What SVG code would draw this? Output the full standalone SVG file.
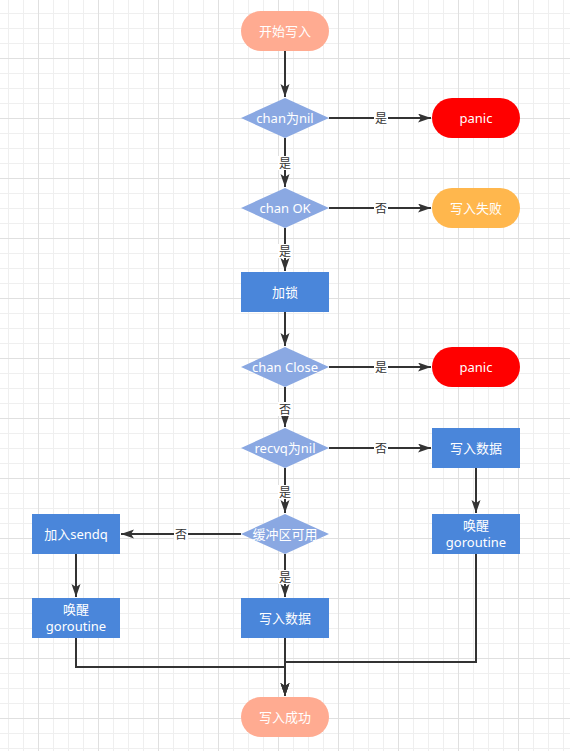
<svg xmlns="http://www.w3.org/2000/svg" width="570" height="751" viewBox="0 0 570 751">
<style>
.t{font-family:"Noto Sans","Noto Sans CJK SC",sans-serif;font-size:13px;fill:#fff;text-anchor:middle}
.l{font-family:"Noto Sans","Noto Sans CJK SC",sans-serif;font-size:12px;fill:#333;text-anchor:middle}
.e{fill:none;stroke:#333;stroke-width:2}
.term{fill:#FFAB91}
.dia{fill:#8AA8E2}
.box{fill:#4A86DA}
.red{fill:#FF0000}
.org{fill:#FFB74D}
.lb{fill:#fff}
</style>
<defs>
<pattern id="grid" patternUnits="userSpaceOnUse" x="38" y="58" width="60" height="60">
<path d="M15.5,0V60M30.5,0V60M45.5,0V60M0,15.5H60M0,30.5H60M0,45.5H60" stroke="#efefef" stroke-width="1" fill="none"/>
<path d="M0.5,0V60M0,0.5H60" stroke="#e0e0e0" stroke-width="1" fill="none"/>
</pattern>
<marker id="arr" markerUnits="userSpaceOnUse" markerWidth="14" markerHeight="10" refX="13" refY="4.5" orient="auto">
<path d="M0,0L13,4.5L0,9L3,4.5z" fill="#333"/>
</marker>
</defs>
<rect width="570" height="751" fill="#fff"/>
<rect width="570" height="751" fill="url(#grid)"/>

<g id="connectors">
<path class="e" d="M285,51V97" marker-end="url(#arr)"/>
<path class="e" d="M329,118H431" marker-end="url(#arr)"/>
<path class="e" d="M285,138V187" marker-end="url(#arr)"/>
<path class="e" d="M329,208H431" marker-end="url(#arr)"/>
<path class="e" d="M285,228V271" marker-end="url(#arr)"/>
<path class="e" d="M285,312V346" marker-end="url(#arr)"/>
<path class="e" d="M329,367H431" marker-end="url(#arr)"/>
<path class="e" d="M285,387V427" marker-end="url(#arr)"/>
<path class="e" d="M329,448H431" marker-end="url(#arr)"/>
<path class="e" d="M285,468V513" marker-end="url(#arr)"/>
<path class="e" d="M241,534H121" marker-end="url(#arr)"/>
<path class="e" d="M285,554V597" marker-end="url(#arr)"/>
<path class="e" d="M476,468V513" marker-end="url(#arr)"/>
<path class="e" d="M76,554V597" marker-end="url(#arr)"/>
<path class="e" d="M76,638V667H285V696" marker-end="url(#arr)"/>
<path class="e" d="M476,554V662H285V696" marker-end="url(#arr)"/>
<path class="e" d="M285,638V696" marker-end="url(#arr)"/>
<rect class="lb" x="374" y="111" width="14" height="14"/><text class="l" x="381" y="122.5">是</text>
<rect class="lb" x="278" y="156" width="14" height="14"/><text class="l" x="285" y="167.5">是</text>
<rect class="lb" x="374" y="201" width="14" height="14"/><text class="l" x="381" y="212.5">否</text>
<rect class="lb" x="278" y="244" width="14" height="14"/><text class="l" x="285" y="255.5">是</text>
<rect class="lb" x="374" y="360" width="14" height="14"/><text class="l" x="381" y="371.5">是</text>
<rect class="lb" x="278" y="402" width="14" height="14"/><text class="l" x="285" y="413.5">否</text>
<rect class="lb" x="374" y="441" width="14" height="14"/><text class="l" x="381" y="452.5">否</text>
<rect class="lb" x="278" y="485" width="14" height="14"/><text class="l" x="285" y="496.5">是</text>
<rect class="lb" x="174" y="527" width="14" height="14"/><text class="l" x="181" y="538.5">否</text>
<rect class="lb" x="278" y="570" width="14" height="14"/><text class="l" x="285" y="581.5">是</text>
</g>

<g id="start"><rect class="term" x="241" y="11" width="88" height="40" rx="20"/><text class="t" x="285" y="35.5">开始写入</text></g>
<g id="d-nil"><polygon class="dia" points="241,118 285,98 329,118 285,138"/><text class="t" x="285" y="122.5">chan为nil</text></g>
<g id="panic1"><rect class="red" x="432" y="98" width="88" height="40" rx="20"/><text class="t" x="476" y="122.5">panic</text></g>
<g id="d-ok"><polygon class="dia" points="241,208 285,188 329,208 285,228"/><text class="t" x="285" y="212.5">chan OK</text></g>
<g id="fail"><rect class="org" x="432" y="188" width="88" height="40" rx="20"/><text class="t" x="476" y="212.5">写入失败</text></g>
<g id="lock"><rect class="box" x="241" y="272" width="88" height="40"/><text class="t" x="285" y="296.5">加锁</text></g>
<g id="d-close"><polygon class="dia" points="241,367 285,347 329,367 285,387"/><text class="t" x="285" y="371.5">chan Close</text></g>
<g id="panic2"><rect class="red" x="432" y="347" width="88" height="40" rx="20"/><text class="t" x="476" y="371.5">panic</text></g>
<g id="d-recvq"><polygon class="dia" points="241,448 285,428 329,448 285,468"/><text class="t" x="285" y="452.5">recvq为nil</text></g>
<g id="write1"><rect class="box" x="432" y="428" width="88" height="40"/><text class="t" x="476" y="452.5">写入数据</text></g>
<g id="wake1"><rect class="box" x="432" y="514" width="88" height="40"/><text class="t" x="476" y="530">唤醒</text><text class="t" x="476" y="547">goroutine</text></g>
<g id="d-buf"><polygon class="dia" points="241,534 285,514 329,534 285,554"/><text class="t" x="285" y="538.5">缓冲区可用</text></g>
<g id="sendq"><rect class="box" x="32" y="514" width="88" height="40"/><text class="t" x="76" y="538.5">加入sendq</text></g>
<g id="wake2"><rect class="box" x="32" y="598" width="88" height="40"/><text class="t" x="76" y="614">唤醒</text><text class="t" x="76" y="631">goroutine</text></g>
<g id="write2"><rect class="box" x="241" y="598" width="88" height="40"/><text class="t" x="285" y="622.5">写入数据</text></g>
<g id="end"><rect class="term" x="241" y="697" width="88" height="40" rx="20"/><text class="t" x="285" y="721.5">写入成功</text></g>
</svg>
